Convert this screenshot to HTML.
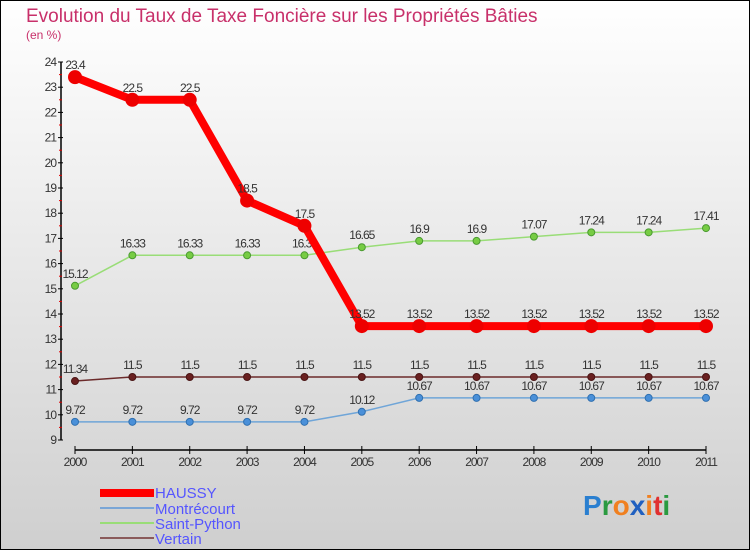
<!DOCTYPE html>
<html><head><meta charset="utf-8"><style>
body{margin:0}
svg{display:block;font-family:"Liberation Sans",sans-serif}
</style></head><body>
<svg width="750" height="550" viewBox="0 0 750 550">
<defs><linearGradient id="bg" x1="0" y1="0" x2="0" y2="1"><stop offset="0" stop-color="#ffffff"/><stop offset="1" stop-color="#cfcfcf"/></linearGradient></defs>
<rect x="0.5" y="0.5" width="749" height="549" fill="url(#bg)" stroke="#000"/>
<text x="26" y="22" font-size="19" fill="#c8306a">Evolution du Taux de Taxe Foncière sur les Propriétés Bâties</text>
<text x="26" y="39" font-size="12" fill="#c8306a">(en %)</text>
<g id="axes"></g>
<g id="series"></g>
<g>
<rect x="100" y="489" width="54" height="8" fill="#ff0000"/>
<text x="155" y="498" font-size="15" fill="#5555ff">HAUSSY</text>
<line x1="100" y1="508" x2="154" y2="508" stroke="#7aa6d6" stroke-width="2"/>
<text x="155" y="514" font-size="15" fill="#5555ff">Montrécourt</text>
<line x1="100" y1="523" x2="154" y2="523" stroke="#99dd77" stroke-width="2"/>
<text x="155" y="529" font-size="15" fill="#5555ff">Saint-Python</text>
<line x1="100" y1="538" x2="154" y2="538" stroke="#8a5a5a" stroke-width="2"/>
<text x="155" y="544" font-size="15" fill="#5555ff">Vertain</text>
</g>
<g font-size="28" font-weight="bold">
<text x="583" y="515"><tspan fill="#2a7fd0">P</tspan><tspan fill="#2a9a40">r</tspan><tspan fill="#f08020">o</tspan><tspan fill="#2060c0">x</tspan><tspan fill="#f08020">i</tspan><tspan fill="#e03030">t</tspan><tspan fill="#2a9a40">i</tspan></text>
</g>
</svg>
<script>
const years=[2000,2001,2002,2003,2004,2005,2006,2007,2008,2009,2010,2011];
const yTicks=[9,10,11,12,13,14,15,16,17,18,19,20,21,22,23,24];
const haussy=[23.4,22.5,22.5,18.5,17.5,13.52,13.52,13.52,13.52,13.52,13.52,13.52];
const montrecourt=[9.72,9.72,9.72,9.72,9.72,10.12,10.67,10.67,10.67,10.67,10.67,10.67];
const saintPython=[15.12,16.33,16.33,16.33,16.33,16.65,16.9,16.9,17.07,17.24,17.24,17.41];
const vertain=[11.34,11.5,11.5,11.5,11.5,11.5,11.5,11.5,11.5,11.5,11.5,11.5];
const NS="http://www.w3.org/2000/svg";
const x=i=>75+i*(706-75)/(years.length-1);
const y=v=>440-(v-9)*(440-62)/15;
function mk(t,a,p){const e=document.createElementNS(NS,t);for(const k in a)e.setAttribute(k,a[k]);p.appendChild(e);return e;}
const ax=document.getElementById('axes');
let e=mk('line',{x1:61,y1:y(24),x2:61,y2:y(9),stroke:'#000','stroke-width':1.5},ax);


yTicks.forEach(v=>{
 mk('line',{x1:58,y1:y(v),x2:63,y2:y(v),stroke:'#000'},ax);
 if(v<24)mk('line',{x1:59,y1:y(v+0.5),x2:62,y2:y(v+0.5),stroke:'#e00000'},ax);
 const t=mk('text',{x:56,y:y(v)+4,'font-size':12,'text-anchor':'end',fill:'#333','letter-spacing':'-1'},ax);t.textContent=v;
 
 
});
e=mk('line',{x1:75,y1:450,x2:706,y2:450,stroke:'#000','stroke-width':1.5},ax);


years.forEach((yr,i)=>{
 mk('line',{x1:x(i),y1:446,x2:x(i),y2:454,stroke:'#000'},ax);
 const t=mk('text',{x:x(i),y:466,'font-size':12,'text-anchor':'middle',fill:'#333','letter-spacing':'-1'},ax);t.textContent=yr;
 
 
});
const sg=document.getElementById('series');
function series(name,data,color,w,r,dot,fill){
 const g=mk('g',{},sg);
 
 
 mk('polyline',{points:data.map((v,i)=>x(i)+','+y(v)).join(' '),fill:'none',stroke:color,'stroke-width':w,'stroke-linejoin':'round'},g);
 data.forEach((v,i)=>{
  const c=mk('circle',{cx:x(i),cy:y(v),r:r,fill:fill,stroke:dot,'stroke-width':1},g);
  
  
  const t=mk('text',{x:x(i),y:y(v)-8,'font-size':12,'text-anchor':'middle',fill:'#333','letter-spacing':'-1'},g);t.textContent=v;
  
  
 });
}
series('montrecourt',montrecourt,'#6fa5d8',1.5,3.5,'#3070b0','#4a90d9');
series('saint-python',saintPython,'#99dd77',1.5,3.5,'#4a9a30','#77cc44');
series('vertain',vertain,'#6b2a2a',1.5,3.5,'#4a1515','#6a2020');
series('haussy',haussy,'#ff0000',8,6.5,'#ee0000','#ee0000');
</script>
</body></html>
